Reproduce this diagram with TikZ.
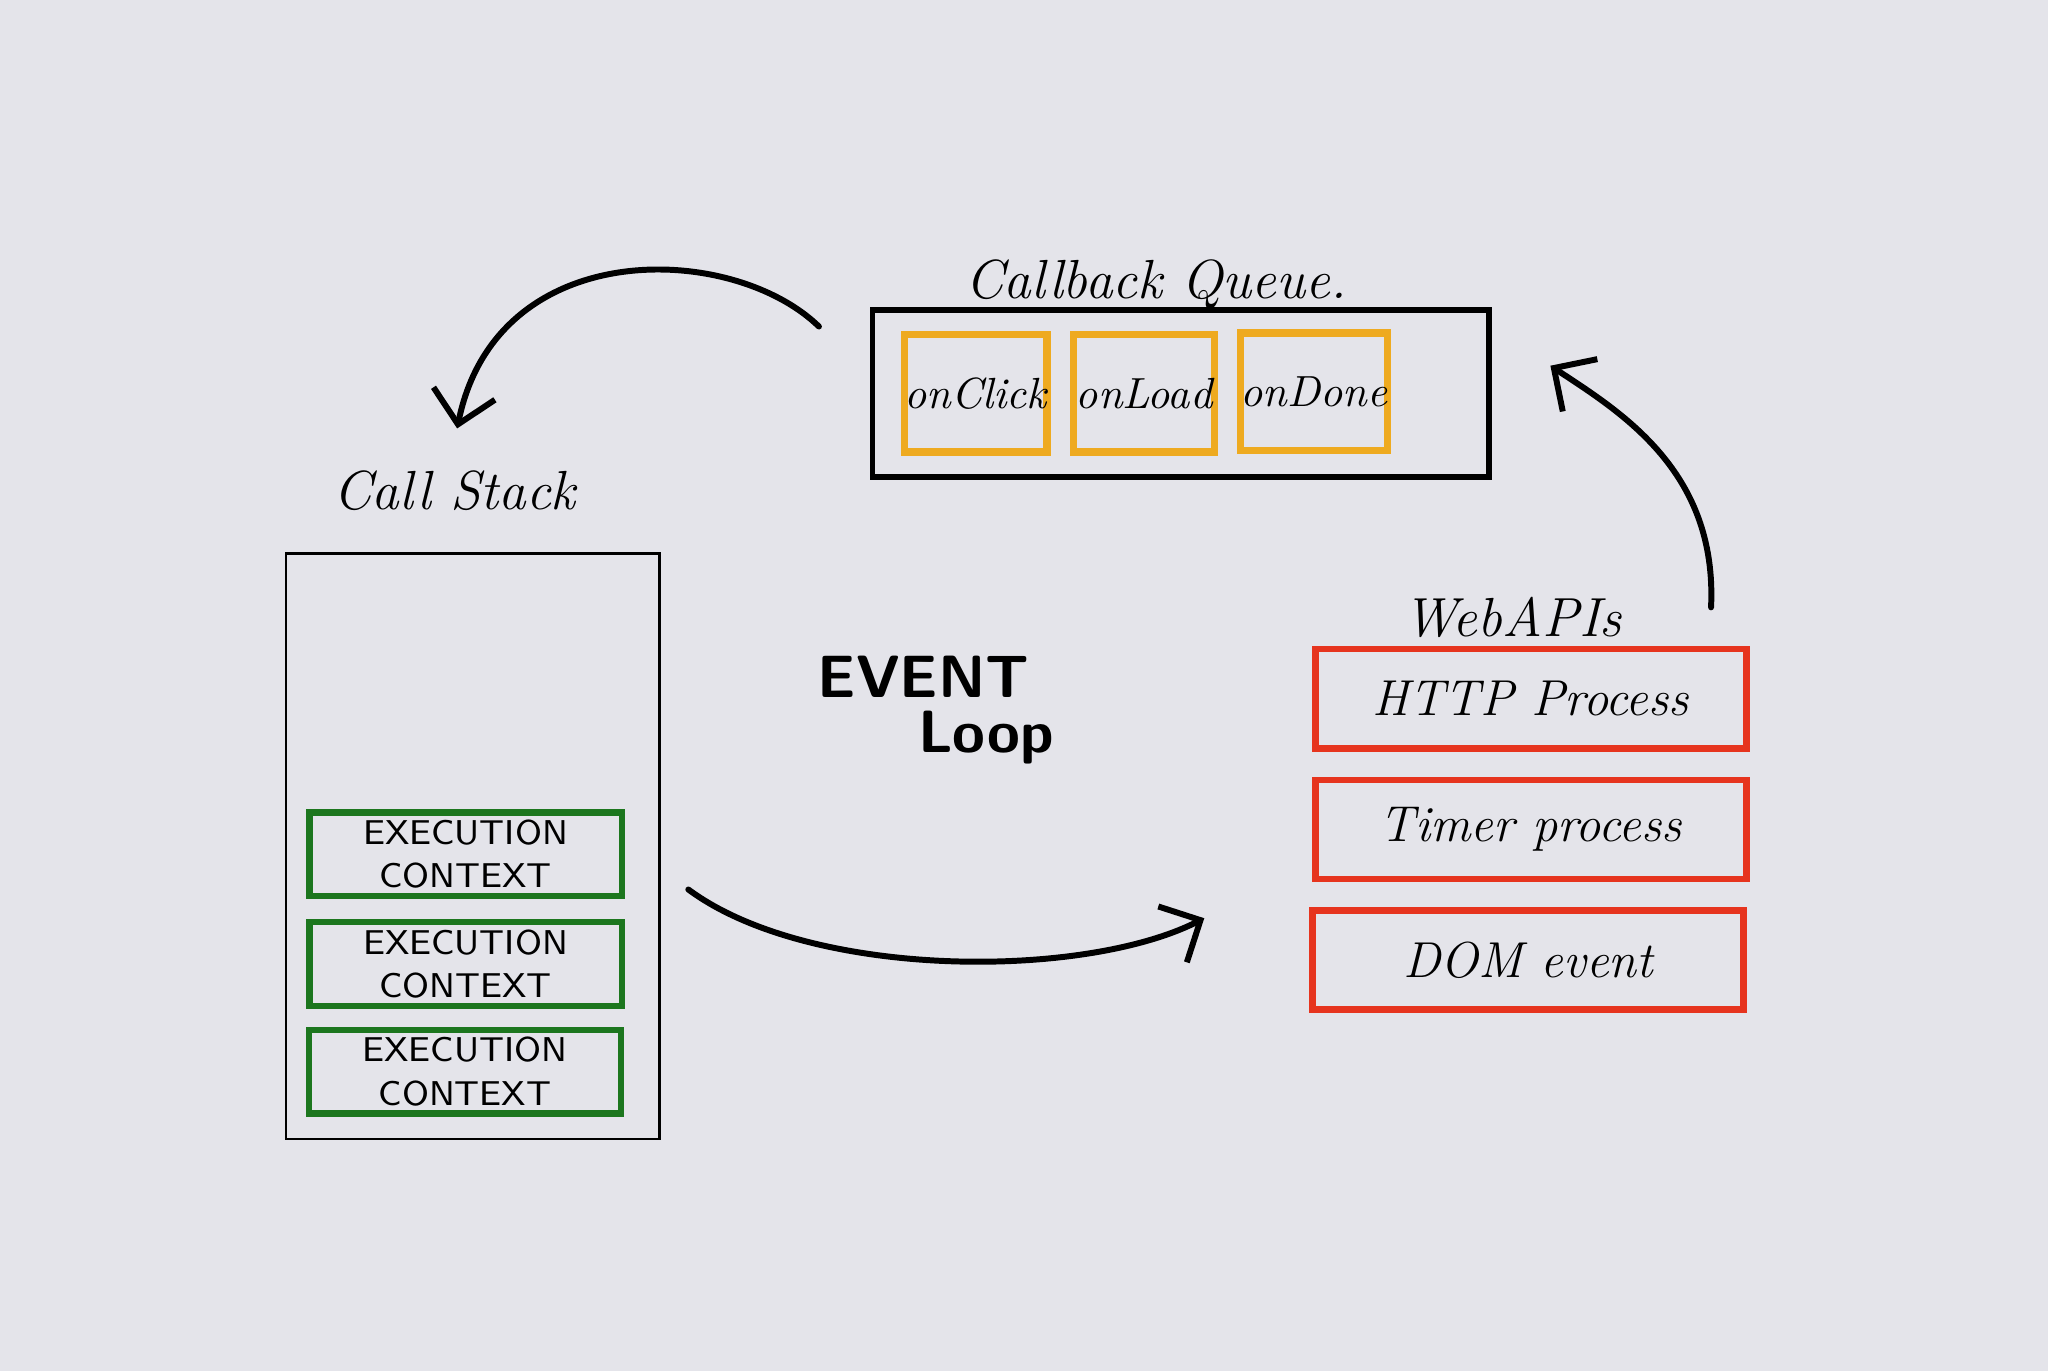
\documentclass[tikz,border=0pt]{standalone}
\usepackage{tikz}
\usetikzlibrary{arrows.meta,positioning}
\definecolor{paper}{RGB}{228,228,234}
\definecolor{cbOrange}{RGB}{238,170,32}
\definecolor{ecGreen}{RGB}{28,118,30}
\definecolor{apiRed}{RGB}{230,52,30}

\begin{document}
\begin{tikzpicture}[>={Straight Barb[length=2.4mm,width=4.8mm]},
    flow/.style={->,line width=1.3pt,line cap=round},
    hand/.style={font=\itshape\fontsize{12}{14}\selectfont},
    cb/.style={draw=cbOrange,line width=1.6pt,minimum width=1.08cm,minimum height=0.9cm,inner sep=0pt,font=\itshape\fontsize{9.5}{12}\selectfont},
    ec/.style={draw=ecGreen,line width=1.4pt,minimum width=2.39cm,minimum height=0.64cm,inner sep=0pt,align=center,font=\sffamily\fontsize{7.5}{9.5}\selectfont},
    api/.style={draw=apiRed,line width=1.4pt,minimum width=3.3cm,minimum height=0.76cm,inner sep=0pt,font=\itshape\fontsize{11}{13}\selectfont},
    ev/.style={font=\sffamily\bfseries\fontsize{13}{15}\selectfont}]

    \fill[paper] (0,0) rectangle (15.68,10.5);

    \node[hand] (QL) at (8.85,8.32) {Callback Queue.};
    \node[draw,line width=1.3pt,minimum width=4.72cm,minimum height=1.28cm] (Q) at (9.04,7.49) {};
    \node[cb] (C1) at (7.47,7.49) {onClick};
    \node[cb] (C2) at (8.76,7.49) {onLoad};
    \node[cb] (C3) at (10.06,7.50) {onDone};

    \node[hand] (SL) at (3.48,6.74) {Call Stack};
    \node[draw,line width=0.6pt,minimum width=2.86cm,minimum height=4.48cm] (S) at (3.62,4.02) {};
    \node[ec] (X1) at (3.565,3.96) {EXECUTION\\CONTEXT};
    \node[ec] (X2) at (3.565,3.12) {EXECUTION\\CONTEXT};
    \node[ec] (X3) at (3.56,2.295) {EXECUTION\\CONTEXT};

    \node[ev] (E1) at (7.07,5.32) {EVENT};
    \node[ev] (E2) at (7.55,4.85) {Loop};

    \node[hand] (WL) at (11.58,5.77) {WebAPIs};
    \node[api] (H) at (11.72,5.15) {HTTP Process};
    \node[api] (T) at (11.72,4.15) {Timer process};
    \node[api] (D) at (11.70,3.15) {DOM event};

    \coordinate (q0) at (6.27,8.00);
    \coordinate (s0) at (3.50,7.22);
    \coordinate (w0) at (13.10,5.85);
    \coordinate (q1) at (11.87,7.70);
    \coordinate (s1) at (5.27,3.69);
    \coordinate (w1) at (9.22,3.47);

    \draw[flow] (q0) .. controls (5.6,8.65) and (3.8,8.7) .. (s0);
    \draw[flow] (w0) .. controls (13.15,6.9) and (12.4,7.35) .. (q1);
    \draw[flow] (s1) .. controls (6.2,3.0) and (8.3,3.0) .. (w1);
\end{tikzpicture}
\end{document}
